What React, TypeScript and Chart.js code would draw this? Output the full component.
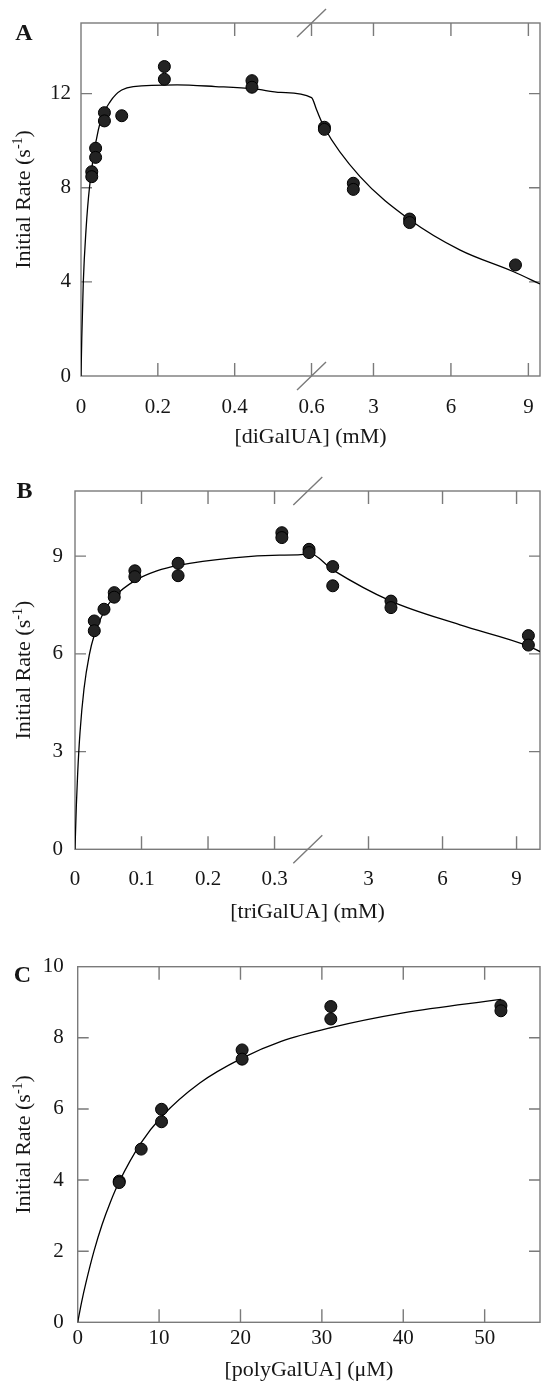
import React, { useEffect, useRef } from "react";
import { Chart, registerables } from "chart.js";

Chart.register(...registerables);

// ---------------- Panel A : diGalUA ----------------
const aPointX = [0.028, 0.028, 0.038, 0.038, 0.061, 0.061, 0.106, 0.217, 0.217, 0.445, 0.445, 1.1, 1.1, 2.22, 2.22, 4.4, 4.4, 8.5];
const aPointY = [8.68, 8.47, 9.68, 9.29, 11.19, 10.84, 11.06, 13.15, 12.61, 12.55, 12.27, 10.57, 10.48, 8.19, 7.93, 6.67, 6.52, 4.72];
const aFitX = [0, 0.002, 0.006, 0.013, 0.022, 0.045, 0.076, 0.136, 0.25, 0.35, 0.45, 0.52, 0.6, 0.8, 1.1, 2.48, 4.42, 6.36, 8.43, 9.45];
const aFitY = [0, 1.6, 4.0, 6.2, 8.0, 10.45, 11.66, 12.3, 12.37, 12.3, 12.2, 12.05, 11.83, 11.3, 10.55, 8.47, 6.63, 5.35, 4.43, 3.91];
const aTickX = [0, 0.2, 0.4, 0.6, 3, 6, 9];
const aTickXLabels = ["0", "0.2", "0.4", "0.6", "3", "6", "9"];
const aTickY = [0, 4, 8, 12];

// ---------------- Panel B : triGalUA ----------------
const bPointX = [0.029, 0.029, 0.0436, 0.059, 0.059, 0.09, 0.09, 0.155, 0.155, 0.311, 0.311, 0.59, 0.59, 1.55, 1.55, 3.91, 3.91, 9.48, 9.48];
const bPointY = [7.01, 6.71, 7.37, 7.88, 7.74, 8.55, 8.37, 8.78, 8.4, 9.72, 9.57, 9.21, 9.11, 8.68, 8.09, 7.62, 7.42, 6.56, 6.27];
const bFitX = [0, 0.002, 0.004, 0.0075, 0.0135, 0.0215, 0.029, 0.0436, 0.059, 0.09, 0.123, 0.155, 0.238, 0.308, 0.35, 0.59, 1.55, 3.91, 6.71, 9.48, 9.95];
const bFitY = [0, 1.33, 2.33, 3.58, 4.92, 5.97, 6.58, 7.3, 7.75, 8.25, 8.55, 8.72, 8.95, 9.03, 9.06, 9.09, 8.58, 7.62, 6.89, 6.24, 6.07];
const bTickX = [0, 0.1, 0.2, 0.3, 3, 6, 9];
const bTickXLabels = ["0", "0.1", "0.2", "0.3", "3", "6", "9"];
const bTickY = [0, 3, 6, 9];

// ---------------- Panel C : polyGalUA ----------------
const cPointX = [5.1, 5.1, 7.8, 10.3, 10.3, 20.2, 20.2, 31.1, 31.1, 52.0, 52.0];
const cPointY = [3.97, 3.93, 4.87, 5.99, 5.64, 7.66, 7.4, 8.88, 8.53, 8.9, 8.76];
const cFitX = [0, 0.5, 1, 2, 3, 4, 5.1, 7.8, 10.3, 15, 20.2, 25, 31, 40, 52];
const cFitY = [0, 0.59, 1.1, 2.0, 2.75, 3.37, 3.95, 5.05, 5.78, 6.73, 7.43, 7.9, 8.28, 8.7, 9.08];
const cTickX = [0, 10, 20, 30, 40, 50];
const cTickXLabels = ["0", "10", "20", "30", "40", "50"];
const cTickY = [0, 2, 4, 6, 8, 10];

const yTitleMain = "Initial Rate (s";
const yTitleSup = "-1";
const yTitleEnd = ")";

// ---------------- styles ----------------
const FONT = "'Liberation Serif', 'Times New Roman', serif";
const TEXT = "#161616";
const AXIS = "#7a7a7a";
const DOT_FILL = "#232323";
const DOT_EDGE = "#000000";

type Brk = { lo: number; hi: number; k: number };
type Layout = {
  top: number;
  height: number;
  area: { left: number; top: number; right: number; bottom: number };
  yLabelPad: number;
  xLabelPad: number;
  xTitleY: number;
  letterPos: [number, number];
};
type Panel = {
  letter: string;
  xTitle: string;
  pointX: number[];
  pointY: number[];
  fitX: number[];
  fitY: number[];
  tickX: number[];
  tickXLabels: string[];
  tickY: number[];
  xMax: number;
  yMax: number;
  brk: Brk | null;
  layout: Layout;
};

const panels: Panel[] = [
  {
    letter: "A",
    xTitle: "[diGalUA] (mM)",
    pointX: aPointX, pointY: aPointY, fitX: aFitX, fitY: aFitY,
    tickX: aTickX, tickXLabels: aTickXLabels, tickY: aTickY,
    xMax: 9.45, yMax: 15,
    brk: { lo: 0.6, hi: 0.6, k: 0.0672 },
    layout: {
      top: 0, height: 455,
      area: { left: 81, top: 23, right: 540, bottom: 376 },
      yLabelPad: 10, xLabelPad: 19, xTitleY: 437, letterPos: [24, 34],
    },
  },
  {
    letter: "B",
    xTitle: "[triGalUA] (mM)",
    pointX: bPointX, pointY: bPointY, fitX: bFitX, fitY: bFitY,
    tickX: bTickX, tickXLabels: bTickXLabels, tickY: bTickY,
    xMax: 9.95, yMax: 11,
    brk: { lo: 0.35, hi: 0.54, k: 0.0371 },
    layout: {
      top: 455, height: 475,
      area: { left: 75, top: 36, right: 540, bottom: 394.3 },
      yLabelPad: 12, xLabelPad: 18, xTitleY: 912 - 455, letterPos: [24.5, 492 - 455],
    },
  },
  {
    letter: "C",
    xTitle: "[polyGalUA] (μM)",
    pointX: cPointX, pointY: cPointY, fitX: cFitX, fitY: cFitY,
    tickX: cTickX, tickXLabels: cTickXLabels, tickY: cTickY,
    xMax: 56.8, yMax: 10,
    brk: null,
    layout: {
      top: 930, height: 454,
      area: { left: 77.7, top: 36.7, right: 540, bottom: 392.3 },
      yLabelPad: 14, xLabelPad: 3.5, xTitleY: 1370 - 930, letterPos: [22.5, 975.5 - 930],
    },
  },
];

const makeU = (brk: Brk | null) => (x: number) =>
  !brk || x <= brk.lo ? x : brk.lo + (x - brk.hi) * brk.k;

function decoPlugin(p: Panel) {
  const u = makeU(p.brk);
  return {
    id: "deco" + p.letter,
    beforeDatasetsDraw(chart: any) {
      const { ctx, chartArea, scales } = chart;
      const { left, top, right, bottom } = chartArea;
      const sx = scales.x;
      const sy = scales.y;
      ctx.save();
      ctx.strokeStyle = AXIS;
      ctx.lineWidth = 1.4;
      ctx.strokeRect(left, top, right - left, bottom - top);
      ctx.beginPath();
      p.tickX.forEach((v) => {
        if (v === 0) return;
        const px = sx.getPixelForValue(u(v));
        ctx.moveTo(px, bottom);
        ctx.lineTo(px, bottom - 13);
        ctx.moveTo(px, top);
        ctx.lineTo(px, top + 13);
      });
      p.tickY.forEach((v) => {
        if (v === 0 || v === p.yMax) return;
        const py = sy.getPixelForValue(v);
        ctx.moveTo(left, py);
        ctx.lineTo(left + 11, py);
        ctx.moveTo(right, py);
        ctx.lineTo(right - 11, py);
      });
      if (p.brk) {
        const px = sx.getPixelForValue(p.brk.lo);
        [top, bottom].forEach((yy) => {
          ctx.moveTo(px - 14.5, yy + 14);
          ctx.lineTo(px + 14.5, yy - 14);
        });
      }
      ctx.stroke();
      ctx.restore();
    },
    afterDraw(chart: any) {
      const { ctx, chartArea } = chart;
      const { left, top, right, bottom } = chartArea;
      ctx.save();
      ctx.fillStyle = TEXT;
      // panel letter
      ctx.font = `bold 24px ${FONT}`;
      ctx.textAlign = "center";
      ctx.textBaseline = "middle";
      ctx.fillText(p.letter, p.layout.letterPos[0], p.layout.letterPos[1]);
      // x title
      ctx.font = `22px ${FONT}`;
      ctx.fillText(p.xTitle, (left + right) / 2, p.layout.xTitleY);
      // y title with superscript
      const mainFont = `22px ${FONT}`;
      const supFont = `14px ${FONT}`;
      ctx.font = mainFont;
      const w1 = ctx.measureText(yTitleMain).width;
      const w3 = ctx.measureText(yTitleEnd).width;
      ctx.font = supFont;
      const w2 = ctx.measureText(yTitleSup).width;
      const total = w1 + w2 + w3;
      ctx.translate(23, (top + bottom) / 2);
      ctx.rotate(-Math.PI / 2);
      ctx.textAlign = "left";
      ctx.textBaseline = "alphabetic";
      let x0 = -total / 2;
      const base = 7;
      ctx.font = mainFont;
      ctx.fillText(yTitleMain, x0, base);
      x0 += w1;
      ctx.font = supFont;
      ctx.fillText(yTitleSup, x0, base - 8);
      x0 += w2;
      ctx.font = mainFont;
      ctx.fillText(yTitleEnd, x0, base);
      ctx.restore();
    },
  };
}

const zeroPad = (s: any) => {
  s.paddingLeft = 0;
  s.paddingRight = 0;
  s.paddingTop = 0;
  s.paddingBottom = 0;
};

function PanelChart({ p }: { p: Panel }) {
  const ref = useRef<HTMLCanvasElement | null>(null);
  useEffect(() => {
    if (!ref.current) return;
    const u = makeU(p.brk);
    const L = p.layout;
    const fit = p.fitX.map((x, i) => ({ x: u(x), y: p.fitY[i] }));
    const pts = p.pointX.map((x, i) => ({ x: u(x), y: p.pointY[i] }));
    const chart = new Chart(ref.current, {
      type: "scatter",
      data: {
        datasets: [
          {
            type: "scatter",
            data: pts,
            pointRadius: 6,
            pointBackgroundColor: DOT_FILL,
            pointBorderColor: DOT_EDGE,
            pointBorderWidth: 1,
            order: 0,
          } as any,
          {
            type: "line",
            data: fit,
            borderColor: "#000",
            borderWidth: 1.3,
            pointRadius: 0,
            fill: false,
            cubicInterpolationMode: "monotone",
            order: 1,
          } as any,
        ],
      },
      options: {
        animation: false,
        responsive: false,
        maintainAspectRatio: false,
        events: [],
        layout: {
          autoPadding: false,
          padding: { left: 0, top: L.area.top, right: 541 - L.area.right, bottom: 0 },
        },
        plugins: { legend: { display: false }, tooltip: { enabled: false } },
        scales: {
          x: {
            type: "linear",
            min: 0,
            max: u(p.xMax),
            grid: { display: false, drawTicks: false },
            border: { display: false },
            afterBuildTicks: (s: any) => {
              s.ticks = p.tickX.map((v) => ({ value: u(v) }));
            },
            afterFit: (s: any) => {
              s.height = L.height - L.area.bottom;
              zeroPad(s);
            },
            ticks: {
              autoSkip: false,
              maxRotation: 0,
              padding: L.xLabelPad,
              color: TEXT,
              font: { family: FONT, size: 21 },
              callback: (_v: any, i: number) => p.tickXLabels[i],
            },
          },
          y: {
            type: "linear",
            min: 0,
            max: p.yMax,
            grid: { display: false, drawTicks: false },
            border: { display: false },
            afterBuildTicks: (s: any) => {
              s.ticks = p.tickY.map((v) => ({ value: v }));
            },
            afterFit: (s: any) => {
              s.width = L.area.left;
              zeroPad(s);
            },
            ticks: {
              padding: L.yLabelPad,
              color: TEXT,
              font: { family: FONT, size: 21 },
              callback: (v: any) => String(v),
            },
          },
        },
      } as any,
      plugins: [decoPlugin(p)],
    });
    return () => chart.destroy();
  }, [p]);
  return (
    <canvas
      ref={ref}
      width={541}
      height={p.layout.height}
      style={{ position: "absolute", left: 0, top: p.layout.top, width: 541, height: p.layout.height, display: "block" }}
    />
  );
}

export default function App() {
  return (
    <div style={{ position: "absolute", left: 0, top: 0, width: 541, height: 1384, background: "#fff" }}>
      {panels.map((p) => (
        <PanelChart key={p.letter} p={p} />
      ))}
    </div>
  );
}
